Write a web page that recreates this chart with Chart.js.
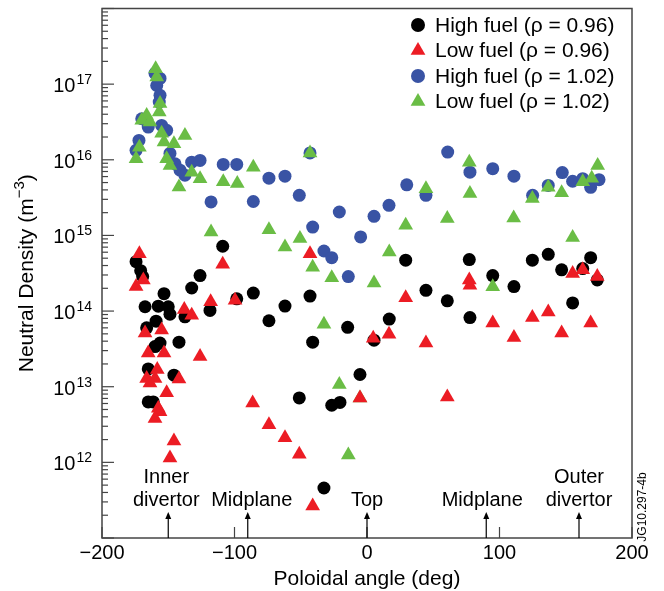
<!DOCTYPE html>
<html>
<head>
<meta charset="utf-8">
<script src="https://cdn.jsdelivr.net/npm/chart.js@4/dist/chart.umd.min.js"></script>
<style>
html,body{margin:0;padding:0;background:#fff;}
canvas{display:block;}
</style>
</head>
<body>
<canvas id="myChart" width="664" height="591"></canvas>
<script>
const CHART = document.getElementById("myChart");

// poloidal angle (deg) / neutral density (m^-3)
const highFuel096X = [-174.3,-170.8,-169.3,-167.5,-166.3,-165.1,-165.1,-161.3,-160,-159.2,-157.5,-156.2,-153.2,-150,-148.7,-145.7,-141.9,-137.4,-132.3,-126,-118.5,-108.9,-98.3,-85.8,-74,-61.9,-43,-41,-51.1,-32.5,-26.6,-20.4,-14.6,-5.3,5.3,16.8,29.2,44.5,60.6,77.2,77.7,94.9,110.9,124.8,136.8,146.9,155.2,162.8,168.8,173.8];
const highFuel096Y = [4.5e14,3.42e14,2.86e14,1.14e14,6.0e13,1.72e13,6.3e12,6.3e12,3.39e13,7.35e13,1.16e14,3.78e13,1.7e14,1.14e14,9.08e13,1.42e13,3.88e13,8.4e13,2.02e14,2.95e14,1.02e14,7.19e14,1.45e14,1.73e14,7.45e13,1.165e14,1.58e14,3.88e13,7.1e12,4.58e11,5.69e12,6.2e12,6.1e13,1.45e13,4.12e13,7.83e13,4.71e14,1.88e14,1.365e14,4.8e14,8.2e13,2.95e14,2.11e14,4.71e14,5.63e14,3.51e14,1.28e14,3.65e14,5.08e14,2.58e14];

const lowFuel096X = [-171.8,-168.8,-174.3,-167.5,-165.1,-166.3,-163.8,-160,-158.3,-157.5,-156.2,-160,-155,-153.2,-151.2,-148.7,-145.7,-141.9,-137.9,-132.3,-126,-118,-108.9,-99.6,-86.3,-74,-61.9,-51.1,-43,-41,-5.3,4.7,16.6,29.2,44.5,60.6,77.2,77.7,94.9,110.9,124.8,136.8,146.9,155.2,162.8,168.8,173.8];
const lowFuel096Y = [5.73e14,2.58e14,2.11e14,5.14e13,2.8e13,1.28e13,1.12e13,1.28e13,1.69e13,5.18e12,4.68e12,3.81e12,5.62e13,2.8e13,8.32e12,1.145e12,1.91e12,1.26e13,1.05e14,8.78e13,2.51e13,1.33e14,4.16e14,1.39e14,6.1e12,3.14e12,2.11e12,1.28e12,5.73e14,2.65e11,7.1e12,4.36e13,4.94e13,1.5e14,3.78e13,7.3e12,2.58e14,2.2e14,6.97e13,4.46e13,8.2e13,9.74e13,5.14e13,3.14e14,3.51e14,6.97e13,2.86e14];

const highFuel102X = [-160,-156.2,-158.7,-156.2,-156.8,-170,-165.1,-155,-151.2,-172.1,-174.3,-148.7,-144.9,-141.1,-137.4,-132.3,-126,-108.5,-98.3,-117.7,-85.8,-74,-61.9,-51.1,-43,-41,-32.5,-26.6,-20.9,-14.1,-4.8,5.3,16.6,30,44.5,60.9,77.7,94.9,110.9,125,136.8,147.4,155.2,162.8,168.8,175.1];
const highFuel102Y = [1.39e17,1.19e17,9.6e16,7.12e16,5.79e16,3.49e16,2.71e16,2.85e16,2.45e16,1.805e16,1.335e16,1.214e16,8.86e15,7.29e15,6.24e15,9.29e15,9.81e15,8.68e15,8.68e15,2.77e15,2.81e15,5.72e15,6.07e15,3.39e15,1.232e16,1.29e15,6.23e14,5.08e14,2.04e15,2.86e14,9.56e14,1.79e15,2.5e15,4.67e15,3.39e15,1.266e16,6.86e15,7.64e15,6.07e15,3.39e15,4.58e15,6.77e15,5.2e15,5.63e15,4.32e15,5.46e15];

const lowFuel102X = [-159.5,-158.7,-156.2,-156.8,-166.3,-170,-163.8,-155,-153.2,-145.7,-137.4,-171.8,-174.3,-151.2,-148.7,-132.3,-126,-141.9,-108.5,-97.9,-117.7,-85.8,-43,-74,-61.9,-50.6,-41,-26.6,-32.5,-20.9,-14.1,-5.3,5.3,16.8,29.2,44.5,60.6,77.2,77.7,94.9,110.7,124.8,136.8,146.9,155.2,162.8,169.6,174.1];
const lowFuel102Y = [1.6e17,1.24e17,5.54e16,4.28e16,3.86e16,3.32e16,3.16e16,2.24e16,1.72e16,1.634e16,2.1e16,1.47e16,1.033e16,1.033e16,8.43e15,6.86e15,5.63e15,4.36e15,5.11e15,4.84e15,1.11e15,7.99e15,1.232e16,1.19e15,7.01e14,9.1e14,3.79e14,2.76e14,6.68e13,1.072e13,1.25e12,7.1e12,2.35e14,6.04e14,1.365e15,4.14e15,1.67e15,9.29e15,3.58e15,2.09e14,1.7e15,3.08e15,4.32e15,3.68e15,9.38e14,5.11e15,5.72e15,8.43e15];

const xTicks = [-200,-100,0,100,200];
const yDecades = [12,13,14,15,16,17];
const markAngles = [-150,-90,0,90,160];
const markNames = [['Inner','divertor'],['Midplane'],['Top'],['Midplane'],['Outer','divertor']];

const FONT = '"Liberation Sans", Arial, Helvetica, sans-serif';
const BLACK = '#000000', RED = '#ec1c24', BLUE = '#3953a4', GREEN = '#6abd45';
const labelShift = [-2, 4, 0, -4, 0];

function pts(xs, ys) {
  return xs.map((x, i) => ({x: x, y: ys[i]}));
}

function marker(ctx, style, x, y, r, color) {
  ctx.fillStyle = color;
  ctx.beginPath();
  if (style === 'circle') {
    ctx.arc(x, y, r, 0, Math.PI * 2);
  } else {
    ctx.moveTo(x, y - r);
    ctx.lineTo(x + r * 0.866, y + r * 0.5);
    ctx.lineTo(x - r * 0.866, y + r * 0.5);
    ctx.closePath();
  }
  ctx.fill();
}

function line(ctx, x1, y1, x2, y2) {
  ctx.beginPath();
  ctx.moveTo(x1, y1);
  ctx.lineTo(x2, y2);
  ctx.stroke();
}

const frame = {
  id: 'frame',
  afterDraw(chart) {
    const ctx = chart.ctx, a = chart.chartArea;
    const x = chart.scales.x, y = chart.scales.y;
    ctx.save();

    // box and ticks
    ctx.strokeStyle = '#444';
    ctx.lineWidth = 1.5;
    ctx.strokeRect(a.left, a.top, a.right - a.left, a.bottom - a.top);
    ctx.lineWidth = 1.2;
    for (let e = 11; e <= 18; e++) {
      for (let m = 1; m < 10; m++) {
        const v = m * Math.pow(10, e);
        if (v < y.min || v > y.max) continue;
        const py = y.getPixelForValue(v);
        line(ctx, a.left, py, a.left + (m === 1 ? 12 : 6), py);
      }
    }
    xTicks.forEach(v => {
      const px = x.getPixelForValue(v);
      line(ctx, px, a.bottom, px, a.bottom - 11);
    });

    // tick labels
    ctx.fillStyle = '#000';
    ctx.textBaseline = 'alphabetic';
    ctx.textAlign = 'center';
    ctx.font = '20px ' + FONT;
    xTicks.forEach(v => {
      const s = v < 0 ? '\u2212' + (-v) : String(v);
      ctx.fillText(s, x.getPixelForValue(v), 559);
    });
    ctx.font = '21px ' + FONT;
    ctx.fillText('Poloidal angle (deg)', (a.left + a.right) / 2, 585);

    ctx.textAlign = 'right';
    yDecades.forEach(e => {
      const py = y.getPixelForValue(Math.pow(10, e));
      ctx.font = '14px ' + FONT;
      const ew = ctx.measureText(String(e)).width;
      ctx.fillText(String(e), 92, py);
      ctx.font = '20px ' + FONT;
      ctx.fillText('10', 92 - ew - 1, py + 8);
    });

    // y title
    ctx.save();
    ctx.translate(33, (a.top + a.bottom) / 2);
    ctx.rotate(-Math.PI / 2);
    ctx.textAlign = 'left';
    const t1 = 'Neutral Density (m', t3 = ')';
    ctx.font = '15px ' + FONT;
    const w2 = ctx.measureText('\u22123').width;
    ctx.font = '21px ' + FONT;
    const w1 = ctx.measureText(t1).width, w3 = ctx.measureText(t3).width;
    const sx = -(w1 + w2 + w3) / 2;
    ctx.fillText(t1, sx, 0);
    ctx.font = '15px ' + FONT;
    ctx.fillText('\u22123', sx + w1, -9);
    ctx.font = '21px ' + FONT;
    ctx.fillText(t3, sx + w1 + w2, 0);
    ctx.restore();

    // location arrows
    ctx.strokeStyle = '#000';
    ctx.lineWidth = 1.2;
    ctx.textAlign = 'center';
    ctx.font = '20px ' + FONT;
    markAngles.forEach((ang, i) => {
      const px = x.getPixelForValue(ang);
      line(ctx, px, a.bottom, px, a.bottom - 20);
      ctx.fillStyle = '#000';
      ctx.beginPath();
      ctx.moveTo(px, a.bottom - 26);
      ctx.lineTo(px + 3, a.bottom - 19);
      ctx.lineTo(px - 3, a.bottom - 19);
      ctx.closePath();
      ctx.fill();
      const names = markNames[i];
      names.forEach((s, k) => {
        ctx.fillText(s, px + labelShift[i], 506 - (names.length - 1 - k) * 23);
      });
    });

    // legend
    const sets = chart.data.datasets;
    ctx.textAlign = 'left';
    ctx.textBaseline = 'middle';
    ctx.font = '21px ' + FONT;
    sets.forEach((ds, i) => {
      const ry = 25 + i * 25.5;
      marker(ctx, ds.pointStyle, 418, ry, ds.pointStyle === 'circle' ? 7 : 8.5, ds.backgroundColor);
      ctx.fillStyle = '#000';
      ctx.fillText(ds.label, 435, ry + 1);
    });

    // figure id
    ctx.save();
    ctx.translate(643, 507);
    ctx.rotate(-Math.PI / 2);
    ctx.textAlign = 'center';
    ctx.font = '12px ' + FONT;
    ctx.fillText('JG10.297-4b', 0, 0);
    ctx.restore();

    ctx.restore();
  }
};

let scatter = new Chart(CHART, {
  type: 'scatter',
  data: {
    datasets: [
      {label: 'High fuel (\u03c1 = 0.96)', data: pts(highFuel096X, highFuel096Y), pointStyle: 'circle', pointRadius: 6.5, backgroundColor: BLACK, borderWidth: 0, order: 4},
      {label: 'Low fuel (\u03c1 = 0.96)', data: pts(lowFuel096X, lowFuel096Y), pointStyle: 'triangle', pointRadius: 8.5, backgroundColor: RED, borderWidth: 0, order: 1},
      {label: 'High fuel (\u03c1 = 1.02)', data: pts(highFuel102X, highFuel102Y), pointStyle: 'circle', pointRadius: 6.5, backgroundColor: BLUE, borderWidth: 0, order: 3},
      {label: 'Low fuel (\u03c1 = 1.02)', data: pts(lowFuel102X, lowFuel102Y), pointStyle: 'triangle', pointRadius: 8.5, backgroundColor: GREEN, borderWidth: 0, order: 2}
    ]
  },
  options: {
    responsive: false,
    animation: false,
    layout: {padding: {left: 0, top: 8, right: 32, bottom: 0}},
    plugins: {legend: {display: false}, tooltip: {enabled: false}},
    scales: {
      x: {
        type: 'linear', min: -200, max: 200,
        ticks: {display: false}, grid: {display: false}, border: {display: false},
        afterFit(s) { s.height = 53; }
      },
      y: {
        type: 'logarithmic', min: 1e11, max: 1e18,
        ticks: {display: false}, grid: {display: false}, border: {display: false},
        afterFit(s) { s.width = 102; }
      }
    }
  },
  plugins: [frame]
});
</script>
</body>
</html>
